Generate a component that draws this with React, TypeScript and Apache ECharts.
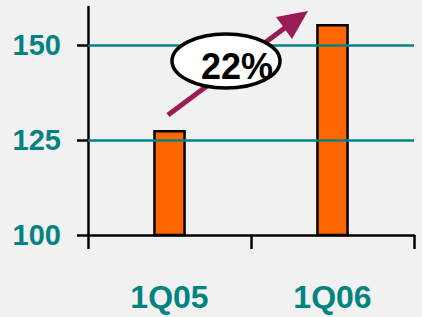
import React, { useEffect, useRef } from "react";
import * as echarts from "echarts";

const categories = ["1Q05", "1Q06"];
const values = [127.6, 155.5];
const gridValues = [125, 150];
const tickValues = [100, 125, 150];
const growthLabel = "22%";

const TEAL = "#03837f";
const FONT = "'Liberation Sans', Arial, sans-serif";

export default function App() {
  const ref = useRef<HTMLDivElement>(null);
  useEffect(() => {
    document.body.style.margin = "0";
    const chart = echarts.init(ref.current!, null, { renderer: "svg" });
    chart.setOption({
      animation: false,
      backgroundColor: "#f1f1f1",
      grid: { left: 88, right: 8, top: 7, bottom: 82 },
      xAxis: {
        type: "category",
        data: categories,
        boundaryGap: true,
        axisLine: { lineStyle: { color: "#000", width: 2.5 } },
        axisTick: { show: true, length: 14, lineStyle: { color: "#000", width: 2.5 } },
        axisLabel: {
          color: TEAL,
          fontSize: 32,
          fontWeight: "bold",
          fontFamily: FONT,
          margin: 46,
        },
        splitLine: { show: false },
      },
      yAxis: {
        type: "value",
        min: 100,
        max: 160,
        interval: 25,
        axisLine: { show: true, lineStyle: { color: "#000", width: 2.5 } },
        axisTick: {
          show: true,
          length: 11,
          customValues: tickValues,
          lineStyle: { color: "#000", width: 2.5 },
        },
        axisLabel: {
          color: TEAL,
          fontSize: 29,
          fontWeight: "bold",
          fontFamily: FONT,
          margin: 27,
          customValues: tickValues,
        },
        splitLine: { show: false },
      },
      series: [
        {
          type: "line",
          data: [],
          z: 1,
          silent: true,
          markLine: {
            silent: true,
            symbol: "none",
            label: { show: false },
            lineStyle: { color: TEAL, width: 2.5, type: "solid" },
            data: gridValues.map((v) => ({ yAxis: v })),
          },
        },
        {
          type: "bar",
          data: values,
          barWidth: "20%",
          z: 3,
          itemStyle: { color: "#ff6600", borderColor: "#000", borderWidth: 2.5 },
        },
      ],
      graphic: [
        {
          type: "line",
          z: 10,
          shape: { x1: 168, y1: 115, x2: 286, y2: 27 },
          style: { stroke: "#9b1b55", lineWidth: 5 },
        },
        {
          type: "polygon",
          z: 10,
          shape: { points: [[308, 11], [276, 17], [292, 39]] },
          style: { fill: "#9b1b55" },
        },
        {
          type: "ellipse",
          z: 11,
          shape: { cx: 226, cy: 61, rx: 54, ry: 27 },
          style: { fill: "#fff", stroke: "#000", lineWidth: 3.5 },
        },
        {
          type: "text",
          z: 12,
          x: 237,
          y: 66,
          style: {
            text: growthLabel,
            fill: "#000",
            font: `bold 36px ${FONT}`,
            align: "center",
            verticalAlign: "middle",
          },
        },
      ],
    });
    return () => chart.dispose();
  }, []);
  return <div ref={ref} style={{ width: 422, height: 317 }} />;
}
